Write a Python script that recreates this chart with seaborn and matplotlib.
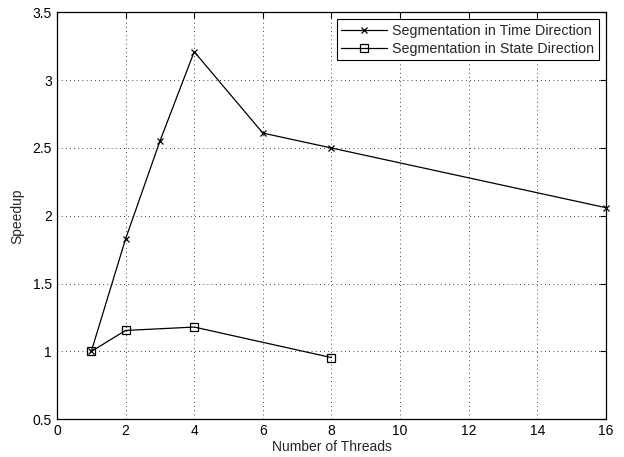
import matplotlib
matplotlib.use("Agg")
import matplotlib.pyplot as plt
import seaborn as sns

# speedup vs. thread count
time_threads = [1, 2, 3, 4, 6, 8, 16]
time_speedup = [1.0, 1.83, 2.55, 3.21, 2.61, 2.50, 2.06]
state_threads = [1, 2, 4, 8]
state_speedup = [1.0, 1.155, 1.18, 0.955]

labels = ["Segmentation in Time Direction", "Segmentation in State Direction"]

sns.set_style("white")
plt.rcParams["font.family"] = ["Liberation Sans", "DejaVu Sans"]

fig = plt.figure(figsize=(6.24, 4.57), dpi=100)
ax = fig.add_axes([0.0913, 0.0825, 0.8797, 0.8905])

sns.lineplot(x=time_threads, y=time_speedup, color="black", marker="x",
             linewidth=0.9, markersize=4.5, markeredgecolor="black",
             markeredgewidth=0.9, label=labels[0], clip_on=False, ax=ax)
sns.lineplot(x=state_threads, y=state_speedup, color="black", marker="s",
             linewidth=0.9, markersize=6, markerfacecolor="none",
             markeredgecolor="black", markeredgewidth=0.9,
             label=labels[1], clip_on=False, ax=ax)

ax.set_xlim(0, 16)
ax.set_ylim(0.5, 3.5)
ax.set_xticks(range(0, 17, 2))
ax.set_yticks([0.5, 1, 1.5, 2, 2.5, 3, 3.5])
ax.set_yticklabels(["0.5", "1", "1.5", "2", "2.5", "3", "3.5"])
ax.grid(True, linestyle=(0, (1, 4)), color="black", linewidth=0.6)
ax.tick_params(direction="in", top=True, right=True, length=4, width=0.8,
               labelsize=10, colors="black")
for s in ax.spines.values():
    s.set_color("black")
    s.set_linewidth(0.9)

ax.set_xlabel("Number of Threads", fontsize=10, labelpad=1)
ax.set_ylabel("Speedup", fontsize=10, labelpad=6)

leg = ax.legend(loc="upper right", fontsize=10.3, frameon=True, fancybox=False,
                edgecolor="black", borderpad=0.3, handlelength=3.2,
                handletextpad=0.4, labelspacing=0.3, borderaxespad=0.5)
leg.get_frame().set_linewidth(0.8)
leg.get_frame().set_alpha(1)

fig.savefig("out.png", dpi=100)
